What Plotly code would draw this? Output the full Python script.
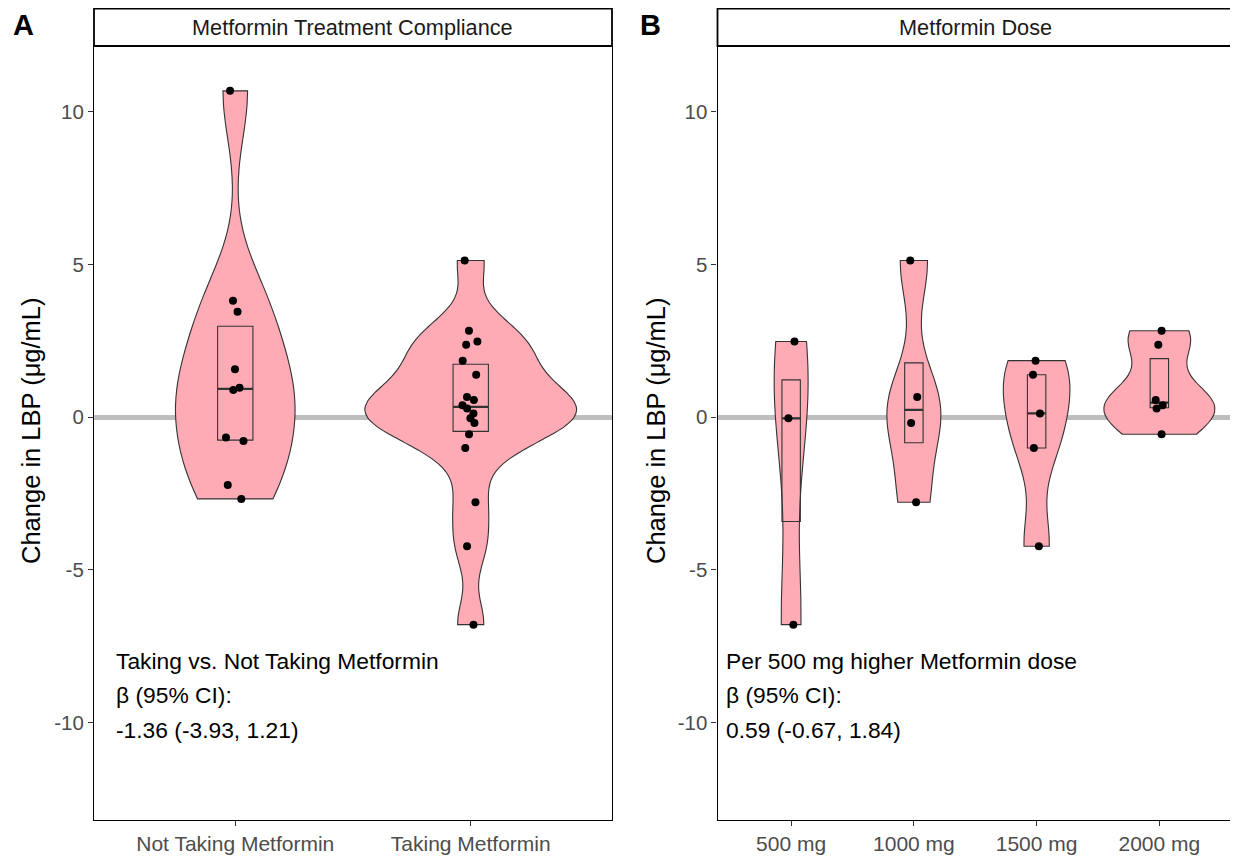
import numpy as np
import plotly.graph_objects as go

# ---------------- data ----------------
compliance_categories = ["Not Taking Metformin", "Taking Metformin"]
not_taking_values = [10.69, 3.81, 3.45, 1.57, 0.96, 0.89, -0.67, -0.78, -2.22, -2.68]
taking_values = [5.13, 2.83, 2.48, 2.37, 1.85, 1.39, 0.66, 0.56, 0.39, 0.28,
                 0.12, -0.04, -0.19, -0.56, -1.01, -2.79, -4.23, -6.80]

dose_categories = ["500 mg", "1000 mg", "1500 mg", "2000 mg"]
dose_500_values = [2.48, -0.04, -6.80]
dose_1000_values = [5.13, 0.66, -0.19, -2.79]
dose_1500_values = [1.85, 1.39, 0.12, -1.01, -4.23]
dose_2000_values = [2.83, 2.37, 0.56, 0.39, 0.28, -0.56]

y_ticks = [-10, -5, 0, 5, 10]

strip_titles = ["Metformin Treatment Compliance", "Metformin Dose"]
y_title = "Change in LBP (μg/mL)"
note_A = ["Taking vs. Not Taking Metformin", "β (95% CI):", "-1.36 (-3.93, 1.21)"]
note_B = ["Per 500 mg higher Metformin dose", "β (95% CI):", "0.59 (-0.67, 1.84)"]
note_y = [-8.0, -9.12, -10.24]

# ---------------- style / geometry ----------------
PAGE_OFFSET = 8          # default body margin of the html page
W, H = 1238 - PAGE_OFFSET, 858 - PAGE_OFFSET
PINK = "#FFABB6"
OUTLINE = "#333333"
FONT = "Liberation Sans, Arial, sans-serif"


def px_x(p):
    return (p - PAGE_OFFSET) / W


def px_y(p):
    return 1 - (p - PAGE_OFFSET) / H


dom_A = [px_x(94), px_x(612)]
dom_B = [px_x(717.5), px_x(1233)]
dom_y = [px_y(820), px_y(46)]
y_range = [-13.2, 12.16]
VIOLIN_WIDTH = 0.9


def nrd0(v):
    v = np.asarray(v, dtype=float)
    sd = v.std(ddof=1)
    q75, q25 = np.percentile(v, [75, 25])
    lo = min(sd, (q75 - q25) / 1.34)
    if lo <= 0:
        lo = sd if sd > 0 else 1.0
    return 0.9 * lo * len(v) ** -0.2


def max_density(v, bw):
    v = np.asarray(v, dtype=float)
    grid = np.linspace(v.min(), v.max(), 512)
    z = (grid[:, None] - v[None, :]) / bw
    dens = np.exp(-0.5 * z ** 2).sum(axis=1) / (len(v) * bw * np.sqrt(2 * np.pi))
    return dens.max()


fig = go.Figure()

panels = [
    ("A", "x", "y", [not_taking_values, taking_values], compliance_categories, 0.10),
    ("B", "x2", "y2", [dose_500_values, dose_1000_values, dose_1500_values, dose_2000_values],
     dose_categories, 0.07),
]

for name, xa, ya, groups, cats, jit_w in panels:
    bws = [nrd0(v) for v in groups]
    peaks = [max_density(v, b) for v, b in zip(groups, bws)]
    top = max(peaks)
    # violins (scale = "area": densities share one scale inside a panel)
    for i, vals in enumerate(groups):
        fig.add_trace(go.Violin(
            x=[i + 1] * len(vals), y=vals, xaxis=xa, yaxis=ya,
            width=VIOLIN_WIDTH * peaks[i] / top, bandwidth=bws[i], spanmode="hard",
            scalegroup=f"{name}{i}", scalemode="width",
            fillcolor=PINK, line=dict(color=OUTLINE, width=1.1),
            points=False, box_visible=False, meanline_visible=False,
            showlegend=False, name=cats[i], opacity=1,
        ))
    # boxes without whiskers
    for i, vals in enumerate(groups):
        q1, med, q3 = np.percentile(vals, [25, 50, 75])
        fig.add_trace(go.Box(
            x=[i + 1], q1=[q1], median=[med], q3=[q3],
            lowerfence=[q1], upperfence=[q3],
            xaxis=xa, yaxis=ya, width=0.15, whiskerwidth=0,
            fillcolor="rgba(0,0,0,0)", line=dict(color=OUTLINE, width=1.1),
            boxpoints=False, showlegend=False, name=cats[i],
        ))
        fig.add_trace(go.Box(
            x=[i + 1], q1=[med], median=[med], q3=[med],
            lowerfence=[med], upperfence=[med],
            xaxis=xa, yaxis=ya, width=0.15, whiskerwidth=0,
            fillcolor="rgba(0,0,0,0)", line=dict(color=OUTLINE, width=2.2),
            boxpoints=False, showlegend=False, hoverinfo="skip",
        ))
    # jittered points
    for i, vals in enumerate(groups):
        fig.add_trace(go.Box(
            x=[i + 1] * len(vals), y=vals, xaxis=xa, yaxis=ya,
            width=jit_w, boxpoints="all", jitter=1, pointpos=0,
            fillcolor="rgba(0,0,0,0)", line=dict(color="rgba(0,0,0,0)", width=0),
            marker=dict(color="black", size=8, opacity=1, line=dict(width=0)),
            showlegend=False, name=cats[i], hoveron="points",
        ))

common_x = dict(showline=True, mirror=True, linecolor="black", linewidth=1.2,
                ticks="outside", ticklen=5, tickcolor=OUTLINE, tickwidth=1.2,
                showgrid=False, zeroline=False,
                tickfont=dict(family=FONT, size=21, color="#4D4D4D"))
common_y = dict(showline=True, mirror=True, linecolor="black", linewidth=1.2,
                ticks="outside", ticklen=5, tickcolor=OUTLINE, tickwidth=1.2,
                showgrid=False, zeroline=True, zerolinecolor="#BEBEBE", zerolinewidth=5,
                range=y_range, tickvals=y_ticks, ticktext=[str(t) for t in y_ticks],
                tickfont=dict(family=FONT, size=20.5, color="#4D4D4D"), domain=dom_y)

fig.update_layout(
    width=W, height=H, margin=dict(l=0, r=0, t=0, b=0, pad=0),
    paper_bgcolor="white", plot_bgcolor="white",
    violinmode="overlay", boxmode="overlay", showlegend=False,
    xaxis=dict(domain=dom_A, range=[0.4, 2.6], tickvals=[1, 2], ticktext=compliance_categories,
               anchor="y", **common_x),
    yaxis=dict(anchor="x", **common_y),
    xaxis2=dict(domain=dom_B, range=[0.4, 4.6], tickvals=[1, 2, 3, 4], ticktext=dose_categories,
                anchor="y2", **common_x),
    yaxis2=dict(anchor="x2", **common_y),
)

shapes = []
annotations = []
for k, dom in enumerate([dom_A, dom_B]):
    shapes.append(dict(type="rect", xref="paper", yref="paper",
                       x0=dom[0], x1=dom[1], y0=px_y(46), y1=px_y(8.5),
                       line=dict(color="black", width=1.8), fillcolor="white"))
    annotations.append(dict(text=strip_titles[k], xref="paper", yref="paper",
                            x=(dom[0] + dom[1]) / 2, y=px_y(27.5), showarrow=False,
                            xanchor="center", yanchor="middle",
                            font=dict(family=FONT, size=21.7, color="#1A1A1A")))

for letter, xpx in (("A", 23), ("B", 651)):
    annotations.append(dict(text=f"<b>{letter}</b>", xref="paper", yref="paper",
                            x=px_x(xpx), y=px_y(25), showarrow=False,
                            xanchor="center", yanchor="middle",
                            font=dict(family=FONT, size=29, color="black")))
for xpx in (31, 656):
    annotations.append(dict(text=y_title, xref="paper", yref="paper", x=px_x(xpx), y=px_y(431),
                            textangle=-90, showarrow=False, xanchor="center", yanchor="middle",
                            font=dict(family=FONT, size=25.5, color="black")))

for xr, yr, lines, xpx in (("x", "y", note_A, 114), ("x2", "y2", note_B, 724)):
    for line, yy in zip(lines, note_y):
        annotations.append(dict(text=line, xref="paper", yref=yr, x=px_x(xpx), y=yy,
                                showarrow=False, xanchor="left", yanchor="middle",
                                font=dict(family=FONT, size=22.8, color="black")))

fig.update_layout(shapes=shapes, annotations=annotations)
fig.write_html("out.html")
